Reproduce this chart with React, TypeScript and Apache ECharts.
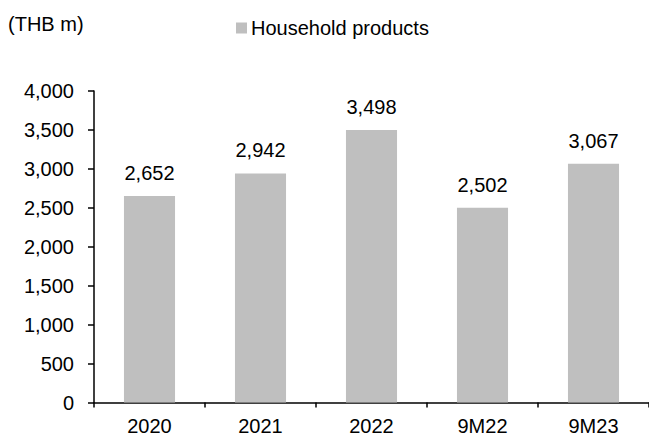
import React, { useEffect, useRef } from "react";
import * as echarts from "echarts";

const categories = ["2020", "2021", "2022", "9M22", "9M23"];
const householdProducts = [2652, 2942, 3498, 2502, 3067];
const seriesName = "Household products";
const unitLabel = "(THB m)";

const FONT = "'Liberation Sans', Arial, sans-serif";
const FS = 20;

export default function App() {
  const ref = useRef<HTMLDivElement>(null);
  useEffect(() => {
    if (!ref.current) return;
    const chart = echarts.init(ref.current, null, { renderer: "svg" });
    chart.setOption({
      animation: false,
      backgroundColor: "#ffffff",
      textStyle: { fontFamily: FONT },
      title: {
        text: unitLabel,
        left: 8,
        top: 14,
        padding: 0,
        textStyle: { fontFamily: FONT, fontSize: FS, fontWeight: "normal", color: "#000" },
      },
      legend: {
        data: [seriesName],
        left: 236,
        top: 18,
        padding: 0,
        itemWidth: 11,
        itemHeight: 11,
        icon: "rect",
        textStyle: { fontFamily: FONT, fontSize: FS, color: "#000", padding: [0, 0, 0, -1] },
      },
      grid: { left: 94, right: -1, top: 91, bottom: 34.5, containLabel: false },
      xAxis: {
        type: "category",
        data: categories,
        axisLine: { lineStyle: { color: "#000", width: 1.5 } },
        axisTick: { show: true, length: 5, inside: false, alignWithLabel: false, lineStyle: { color: "#000", width: 1.5 } },
        axisLabel: { color: "#000", fontSize: FS, fontFamily: FONT, margin: 13 },
        splitLine: { show: false },
      },
      yAxis: {
        type: "value",
        min: 0,
        max: 4000,
        interval: 500,
        axisLine: { show: true, lineStyle: { color: "#000", width: 1.5 } },
        axisTick: { show: true, length: 6, lineStyle: { color: "#000", width: 1.5 } },
        axisLabel: {
          color: "#000",
          fontSize: FS,
          fontFamily: FONT,
          margin: 20,
          formatter: (v: number) => v.toLocaleString("en-US"),
        },
        splitLine: { show: false },
      },
      series: [
        {
          name: seriesName,
          type: "bar",
          data: householdProducts,
          barWidth: "46%",
          itemStyle: { color: "#bfbfbf" },
          label: {
            show: true,
            position: "top",
            distance: 13,
            color: "#000",
            fontSize: FS,
            fontFamily: FONT,
            formatter: (p: any) => Number(p.value).toLocaleString("en-US"),
          },
        },
      ],
    });
    return () => chart.dispose();
  }, []);
  return <div ref={ref} style={{ width: 649, height: 437, position: "absolute", left: 0, top: 0 }} />;
}
